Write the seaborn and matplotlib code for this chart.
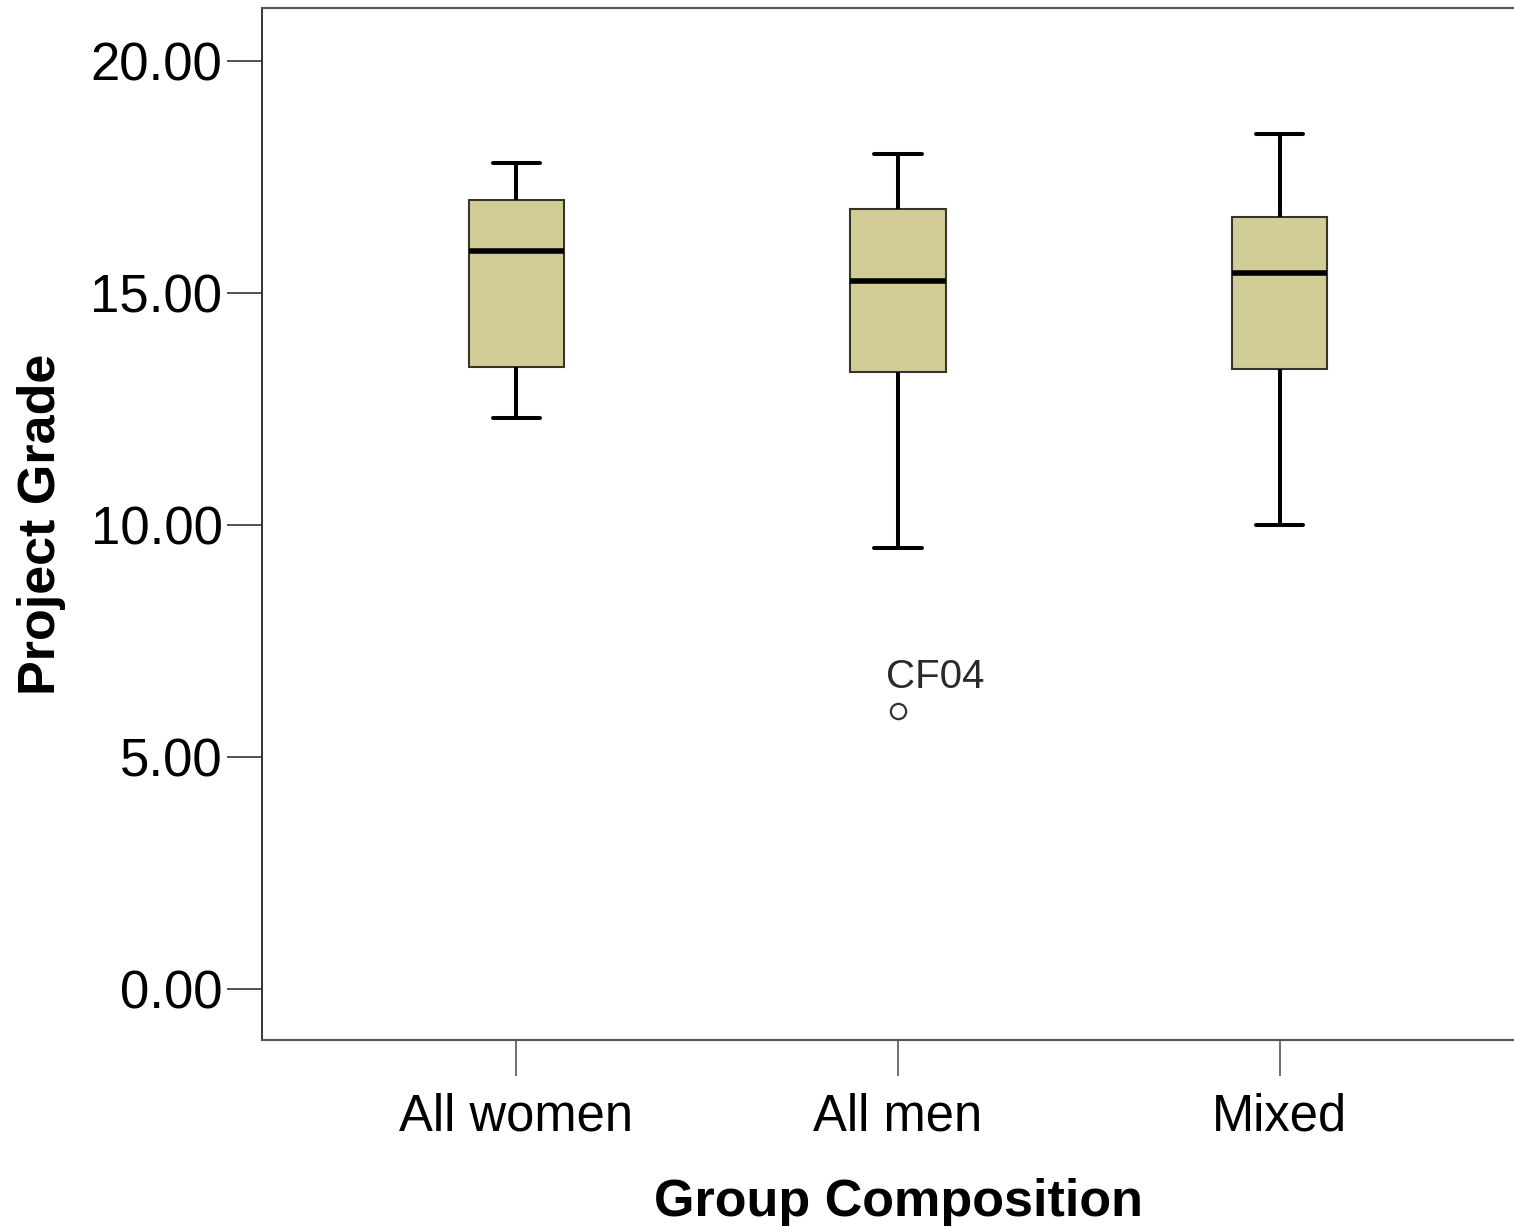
import matplotlib
matplotlib.use("Agg")
import matplotlib.pyplot as plt
import seaborn as sns
import pandas as pd

# Box summaries: low whisker, Q1, median, Q3, high whisker
groups = ["All women", "All men", "Mixed"]
all_women = [12.30, 13.41, 15.90, 17.00, 17.80]
all_men = [9.50, 13.30, 15.26, 16.80, 18.00]
mixed = [10.00, 13.36, 15.43, 16.64, 18.43]

# outlier shown with its case label
outlier_group = ["All men"]
outlier_value = [6.00]
outlier_label = ["CF04"]

y_ticks = [0, 5, 10, 15, 20]

df = pd.DataFrame({
    "Group Composition": ["All women"] * len(all_women) + ["All men"] * len(all_men) + ["Mixed"] * len(mixed),
    "Project Grade": all_women + all_men + mixed,
})
df_out = pd.DataFrame({"Group Composition": outlier_group, "Project Grade": outlier_value})

sns.set_style("white")
plt.rcParams["font.family"] = ["Liberation Sans", "DejaVu Sans"]
plt.rcParams["text.color"] = "black"
plt.rcParams["axes.labelcolor"] = "black"
plt.rcParams["xtick.labelcolor"] = "black"
plt.rcParams["ytick.labelcolor"] = "black"

fig = plt.figure(figsize=(15.14, 12.26), dpi=100)
ax = fig.add_axes([262 / 1514, 1 - 1040 / 1226, 1272 / 1514, 1032 / 1226])

sns.boxplot(data=df, x="Group Composition", y="Project Grade", order=groups, ax=ax,
            width=0.25, color="#D2CD97", saturation=1, showfliers=False,
            linecolor="#35352b", linewidth=1.5,
            medianprops={"color": "black", "linewidth": 4.0},
            whiskerprops={"color": "black", "linewidth": 2.9},
            capprops={"color": "black", "linewidth": 2.9})

sns.stripplot(data=df_out, x="Group Composition", y="Project Grade", order=groups, ax=ax,
              jitter=False, size=11, color="white", edgecolor="#333333", linewidth=1.6,
              zorder=5)

for g, v, lab in zip(outlier_group, outlier_value, outlier_label):
    ax.annotate(lab, (groups.index(g), v), xytext=(-8.5, 16.5), textcoords="offset points",
                ha="left", va="baseline", fontsize=29, color="#2a2a2a")

ax.set_xlim(-2 / 3, 2 + 2 / 3)
ax.set_ylim(-1.10, 21.14)
ax.set_yticks(y_ticks)
ax.set_yticklabels([f"{v:.2f}" for v in y_ticks])

ax.tick_params(axis="y", which="major", direction="out", length=25, width=1.1,
               color="#222222", labelsize=38, pad=3.5, left=True)
ax.tick_params(axis="x", which="major", direction="out", length=26, width=1.2,
               color="#555555", labelsize=36.5, pad=12, bottom=True)

ax.set_xlabel("Group Composition", fontsize=37.5, fontweight="bold")
ax.set_ylabel("Project Grade", fontsize=37.5, fontweight="bold")
ax.xaxis.set_label_coords(0.5, -0.1337)
ax.yaxis.set_label_coords(-0.173, 0.5)
ax.yaxis.label.set_va("center")

for side in ["top", "bottom"]:
    ax.spines[side].set_color("#555555")
    ax.spines[side].set_linewidth(1.5)
ax.spines["left"].set_color("#222222")
ax.spines["left"].set_linewidth(1.3)
ax.spines["right"].set_visible(False)

fig.savefig("out.png", dpi=100, facecolor="white")
